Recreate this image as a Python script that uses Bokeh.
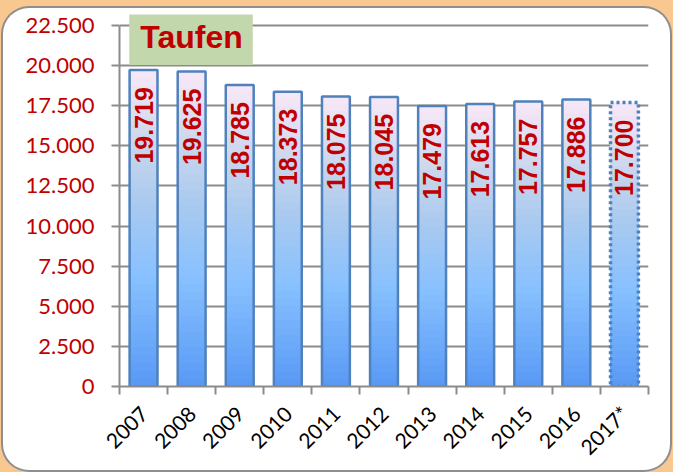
import math
from bokeh.plotting import figure
from bokeh.models import (ColumnDataSource, FixedTicker, Label, GlobalInlineStyleSheet)
from bokeh.core.properties import value
from bokeh.embed import file_html
from bokeh.resources import INLINE

# ---- data ----
years = ["2007", "2008", "2009", "2010", "2011", "2012", "2013", "2014", "2015", "2016", "2017*"]
taufen = [19719, 19625, 18785, 18373, 18075, 18045, 17479, 17613, 17757, 17886, 17700]
estimated = [False] * 10 + [True]
y_ticks = [0, 2500, 5000, 7500, 10000, 12500, 15000, 17500, 20000, 22500]
y_tick_labels = ["0", "2.500", "5.000", "7.500", "10.000", "12.500", "15.000", "17.500", "20.000", "22.500"]
title_text = "Taufen"

RED = "#C00000"
GRID = "#8C8C8C"
BAR_LINE = "#4F81BD"

n = len(years)
centers = [i + 0.5 for i in range(n)]
y_max = y_ticks[-1]
y_top = y_max * 373 / 362   # head room for the title box

p = figure(width=667, height=462, output_backend="svg", toolbar_location=None,
           x_range=(0, n), y_range=(0, y_top),
           min_border_left=116, min_border_right=22, min_border_top=6, min_border_bottom=83,
           background_fill_color="white", border_fill_color=None, outline_line_color=None)
p.styles = {"border-radius": "26px", "box-shadow": "0 0 0 2px #8E8E8E",
            "background-color": "white", "margin-left": "3px", "margin-top": "8px"}
p.stylesheets = [GlobalInlineStyleSheet(css="body { background-color: #F9C890; }")]

# gradient fill of bars (bottom -> top)
stops = [(0.0, (88, 153, 245)), (0.35, (136, 193, 255)), (0.55, (165, 200, 240)),
         (0.75, (198, 213, 236)), (1.0, (249, 232, 248))]

def grad(t):
    for (t0, c0), (t1, c1) in zip(stops[:-1], stops[1:]):
        if t <= t1:
            f = (t - t0) / (t1 - t0)
            return "#%02x%02x%02x" % tuple(int(round(a + (b - a) * f)) for a, b in zip(c0, c1))
    return "#%02x%02x%02x" % stops[-1][1]

N = 40
seg = dict(x=[], top=[], color=[])
for k in reversed(range(N)):
    for c, v in zip(centers, taufen):
        seg["x"].append(c)
        seg["top"].append(v * (k + 1) / N)
        seg["color"].append(grad((k + 0.5) / N))
p.vbar(x="x", bottom=0, top="top", width=0.58, fill_color="color",
       line_color=None, source=ColumnDataSource(seg))

solid = ColumnDataSource(dict(x=[c for c, e in zip(centers, estimated) if not e],
                              top=[v for v, e in zip(taufen, estimated) if not e]))
dotted = ColumnDataSource(dict(x=[c for c, e in zip(centers, estimated) if e],
                               top=[v for v, e in zip(taufen, estimated) if e]))
p.vbar(x="x", top="top", width=0.58, fill_color=None, line_color=BAR_LINE,
       line_width=2.5, source=solid)
p.vbar(x="x", top="top", width=0.58, fill_color=None, line_color=BAR_LINE,
       line_width=3.5, line_dash="3 3", source=dotted)

# value labels
lab = ColumnDataSource(dict(x=centers, y=taufen,
                            text=[f"{v:,}".replace(",", ".") for v in taufen]))
p.text(x="x", y="y", text="text", source=lab, angle=math.pi / 2,
       text_align="right", text_baseline="middle", y_offset=17,
       text_font=value("Liberation Sans"), text_font_style="bold",
       text_font_size="25px", text_color=RED)

# grid
p.xgrid.grid_line_color = None
p.ygrid.ticker = FixedTicker(ticks=y_ticks)
p.ygrid.grid_line_color = GRID
p.ygrid.grid_line_width = 2

# y axis
ya = p.yaxis[0]
ya.ticker = FixedTicker(ticks=y_ticks)
ya.bounds = (0, y_max)
ya.major_label_overrides = {t: l for t, l in zip(y_ticks, y_tick_labels)}
ya.major_label_text_font = "Lato"
ya.major_label_text_font_size = "22px"
ya.major_label_text_color = RED
ya.axis_line_color = GRID
ya.axis_line_width = 2
ya.major_tick_line_color = GRID
ya.major_tick_line_width = 2
ya.major_tick_out = 8
ya.major_tick_in = 0
ya.minor_tick_line_color = None
ya.major_label_standoff = 17

# x axis
xa = p.xaxis[0]
xa.ticker = FixedTicker(ticks=centers, minor_ticks=list(range(n + 1)))
xa.major_label_overrides = {c: y for c, y in zip(centers, years)}
xa.major_label_orientation = math.pi / 4
xa.major_label_text_font = "Lato"
xa.major_label_text_font_size = "21px"
xa.major_label_text_color = "black"
xa.axis_line_color = GRID
xa.axis_line_width = 2
xa.major_tick_line_color = None
xa.major_tick_out = 0
xa.major_tick_in = 0
xa.minor_tick_line_color = GRID
xa.minor_tick_line_width = 2
xa.minor_tick_out = 8
xa.minor_tick_in = 0
xa.major_label_standoff = 15

# title box
p.add_layout(Label(x=1.487, y=21720, text=title_text, text_align="center",
                   text_baseline="middle", text_font="Liberation Sans",
                   text_font_style="bold", text_font_size="32px", text_color=RED,
                   background_fill_color="#C3D7AC", padding=(11, 10, 8, 10)))

open("out.html", "w").write(file_html(p, INLINE))
